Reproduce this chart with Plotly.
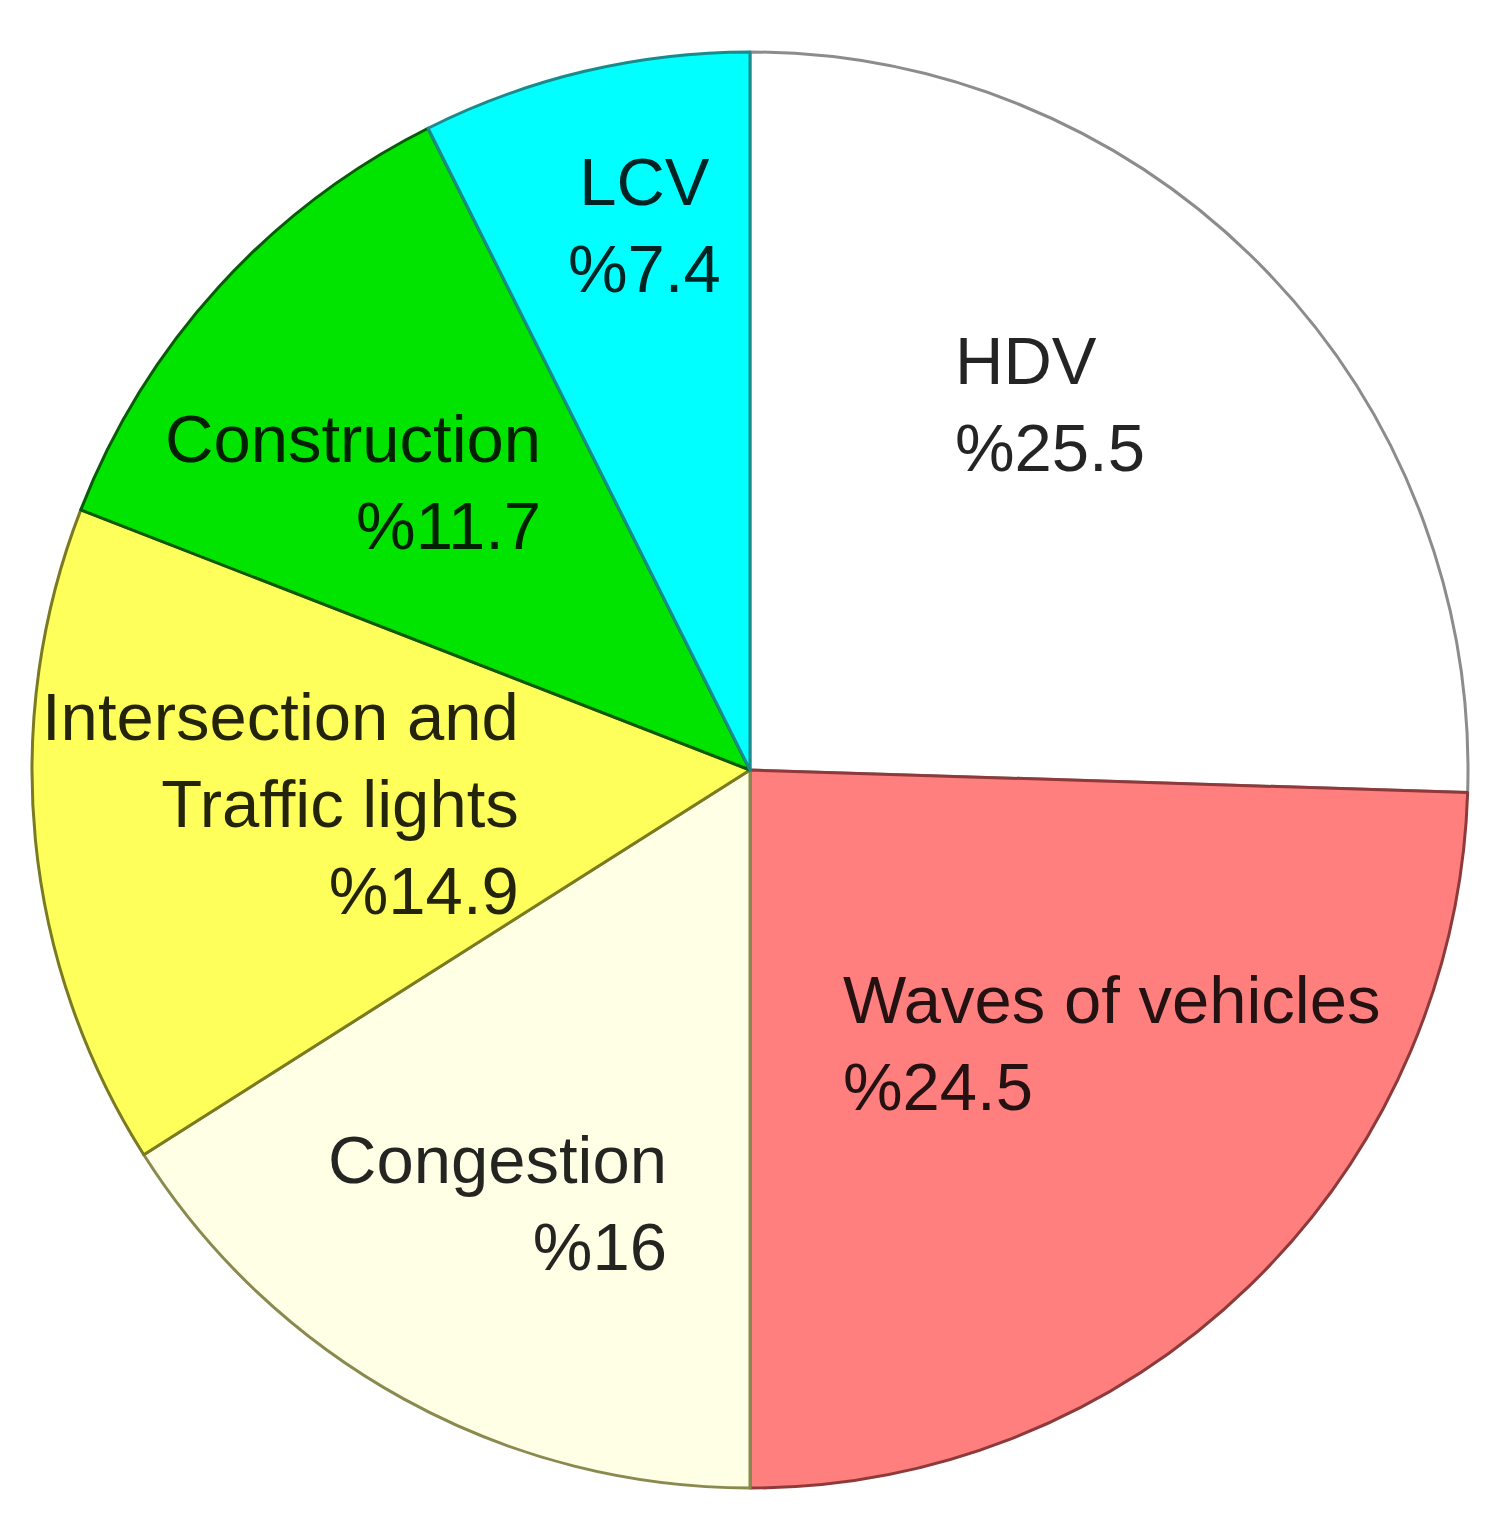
import plotly.graph_objects as go

# Data
categories = ["HDV", "Waves of vehicles", "Congestion", "Intersection and<br>Traffic lights", "Construction", "LCV"]
values = [25.5, 24.5, 16, 14.9, 11.7, 7.4]
value_labels = ["25.5", "24.5", "16", "14.9", "11.7", "7.4"]

# Styles
fill_colors = ["#FFFFFF", "#FF7F7F", "#FFFFE6", "#FFFF5C", "#00E400", "#00FFFF"]
edge_colors = ["#8C8C8C", "#8E3A3A", "#8A8A50", "#7A7A20", "#0A5A0A", "#1A8A8A"]

# Page body has an 8px margin; compensate
OFF = 8
W, H = 1502, 1518
# Label anchor positions in pixels (x, y of block centre) and alignment
label_pos = [
    (945, 396, "left"),
    (833, 1035, "left"),
    (661, 1195, "right"),
    (513, 795, "right"),
    (535, 474, "right"),
    (636, 217, "center"),
]

fig = go.Figure()
fig.add_trace(go.Pie(
    labels=[c.replace("<br>", " ") for c in categories],
    values=values,
    sort=False,
    direction="clockwise",
    rotation=0,
    textinfo="none",
    hoverinfo="none",
    marker=dict(colors=fill_colors, line=dict(color=edge_colors, width=3)),
    domain=dict(x=[(32 - OFF) / W, (1468 - OFF) / W],
                y=[1 - (1488 - OFF) / H, 1 - (52 - OFF) / H]),
    showlegend=False,
))

for cat, val, (px, py, al) in zip(categories, value_labels, label_pos):
    fig.add_annotation(
        x=px / W, y=1 - py / H, xref="paper", yref="paper",
        text=f"{cat}<br>%{val}",
        showarrow=False, xanchor=al, yanchor="middle", align=al,
        font=dict(family="Liberation Sans, Arial, sans-serif", size=67, color="rgba(0,0,0,0.86)"),
    )

fig.update_layout(
    width=W, height=H,
    margin=dict(l=0, r=0, t=0, b=0),
    paper_bgcolor="white", plot_bgcolor="white",
)

fig.write_html("out.html")
